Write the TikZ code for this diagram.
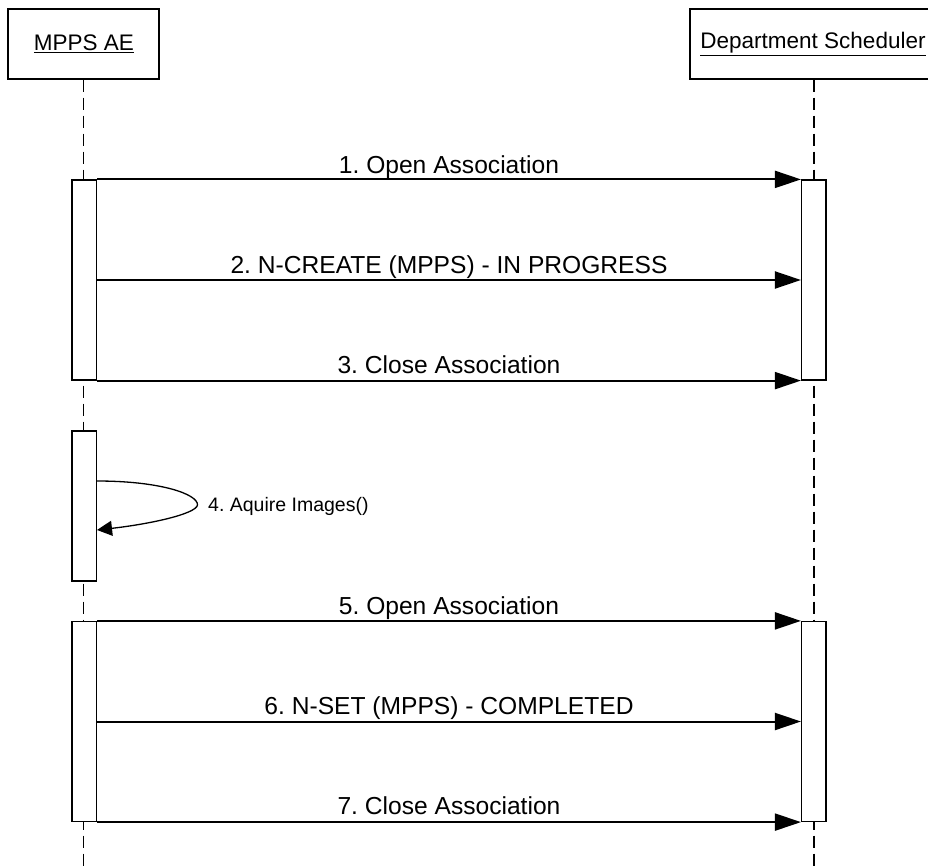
\documentclass[tikz,border=0pt]{standalone}
\usepackage{fontspec}
\setmainfont{Liberation Sans}
\usetikzlibrary{arrows.meta}
\frenchspacing
\begin{document}
\begin{tikzpicture}[x=1pt,y=-1pt,
  actor/.style={draw,line width=1.2pt,minimum height=70pt,inner sep=0pt},
  atext/.style={inner sep=0pt,font=\fontsize{22.5}{26}\selectfont},
  life/.style={line width=1.2pt,dash pattern=on 12pt off 6pt},
  act/.style={draw,fill=white,line width=1.2pt,minimum width=24.5pt,inner sep=0pt},
  msg/.style={line width=2pt,-{Triangle[length=26pt,width=17pt]}},
  lbl/.style={anchor=base,font=\fontsize{24.6}{28}\selectfont,inner sep=0pt},
]
\useasboundingbox (0,0) rectangle (928,867);
\begin{scope}
\clip (0,0) rectangle (928,867);
% actors
\node[actor,minimum width=151pt] (A) at (83.5,44) {};
\node[actor,minimum width=248pt] (B) at (814,44) {};
\node[atext] (At) at (84,44) {\underline{MPPS AE}};
\node[atext] (Bt) at (813,44) {\underline{Department Scheduler}};
% lifelines
\coordinate (Aend) at (83.5,867);
\coordinate (Bend) at (814,867);
\draw[life] (A.south) -- (Aend);
\draw[life] (B.south) -- (Bend);
% activations
\node[act,minimum height=200pt] (a1) at (84.2,280) {};
\node[act,minimum height=150pt] (a2) at (84.2,506) {};
\node[act,minimum height=200pt] (a3) at (84.2,721.5) {};
\node[act,minimum height=200pt] (b1) at (813.8,280) {};
\node[act,minimum height=200pt] (b3) at (813.8,721.5) {};
\end{scope}
% messages
\draw[msg] (a1.north east) -- (b1.north west);
\draw[msg] (a1.east) -- (b1.west);
\draw[msg] (a1.south east) -- (b1.south west);
\draw[msg] (a3.north east) -- (b3.north west);
\draw[msg] (a3.east) -- (b3.west);
\draw[msg] (a3.south east) -- (b3.south west);
\node[lbl] (l1) at (449,173) {1. Open Association};
\node[lbl] (l2) at (449,273) {2. N-CREATE (MPPS) - IN PROGRESS};
\node[lbl] (l3) at (449,373) {3. Close Association};
\node[lbl] (l5) at (449,614) {5. Open Association};
\node[lbl] (l6) at (449,714) {6. N-SET (MPPS) - COMPLETED};
\node[lbl] (l7) at (449,814) {7. Close Association};
% self message
\coordinate (tip) at (197.5,505);
\draw[line width=1.3pt,-{Triangle[length=15pt,width=15pt]}] ([yshift=25pt]a2.east) .. controls (160,481) and (198,494) .. (tip) .. controls (196,514) and (150,524) .. ([yshift=-24pt]a2.east);
\node[anchor=base west,inner sep=0pt,font=\fontsize{19.5}{23}\selectfont] (l4) at (208,511) {4. Aquire Images()};
\end{tikzpicture}
\end{document}
